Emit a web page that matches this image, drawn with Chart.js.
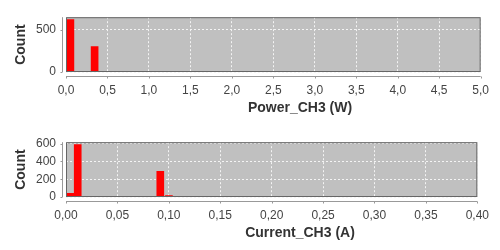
<!DOCTYPE html>
<html>
<head>
<meta charset="utf-8">
<script src="https://cdn.jsdelivr.net/npm/chart.js@4/dist/chart.umd.min.js"></script>
<style>
  html, body { margin: 0; padding: 0; background: #ffffff; }
  .wrap { position: relative; width: 500px; height: 125px; }
  canvas { display: block; }
</style>
</head>
<body>
<div class="wrap"><canvas id="c1" width="500" height="125"></canvas></div>
<div class="wrap"><canvas id="c2" width="500" height="125"></canvas></div>
<script>
// ---- Data ----
const powerBinCenters = [0.053, 0.345];
const powerCounts     = [618, 299];
const powerXTicks     = [0, 0.5, 1, 1.5, 2, 2.5, 3, 3.5, 4, 4.5, 5];
const powerYTicks     = [0, 500];
const powerTitle      = 'Power_CH3 (W)';

const currentBinCenters = [0.0043, 0.0114, 0.0917, 0.1001];
const currentCounts     = [40, 590, 290, 17];
const currentXTicks     = [0, 0.05, 0.10, 0.15, 0.20, 0.25, 0.30, 0.35, 0.40];
const currentYTicks     = [0, 200, 400, 600];
const currentTitle      = 'Current_CH3 (A)';

const yTitle = 'Count';

// ---- Helpers ----
const FONT = "'Liberation Sans', Arial, sans-serif";

function fmtComma(v, decimals) {
  return Number(v).toFixed(decimals).replace('.', ',');
}

const plotDecor = {
  id: 'plotDecor',
  beforeDraw(chart) {
    const {ctx, chartArea: a} = chart;
    ctx.save();
    ctx.fillStyle = '#c0c0c0';
    ctx.fillRect(a.left, a.top, a.right - a.left, a.bottom - a.top);
    ctx.restore();
  },
  afterDraw(chart, args, opts) {
    const {ctx, chartArea: a} = chart;
    const xs = chart.scales.x, ys = chart.scales.y;
    ctx.save();
    ctx.strokeStyle = '#666666';
    ctx.lineWidth = 1;
    ctx.strokeRect(a.left + 0.5, a.top + 0.5, a.right - a.left - 1, a.bottom - a.top - 1);
    ctx.strokeStyle = '#999999';
    const ax = a.left - 3.5;
    const ay = a.bottom + 4.5;
    ctx.beginPath();
    ctx.moveTo(ax, a.top); ctx.lineTo(ax, a.bottom);
    ctx.moveTo(a.left, ay); ctx.lineTo(a.right, ay);
    ys.ticks.forEach(t => {
      const p = Math.round(ys.getPixelForValue(t.value)) + 0.5;
      ctx.moveTo(ax, p); ctx.lineTo(ax - 2, p);
    });
    xs.ticks.forEach(t => {
      const p = Math.round(xs.getPixelForValue(t.value)) + 0.5;
      ctx.moveTo(p, ay); ctx.lineTo(p, ay + 2);
    });
    ctx.stroke();

    // axis titles
    ctx.fillStyle = '#333333';
    ctx.textAlign = 'center';
    ctx.textBaseline = 'middle';
    ctx.font = "bold 14px " + FONT;
    ctx.fillText(opts.xTitle, 300, 108);
    ctx.translate(21.5, (a.top + a.bottom) / 2);
    ctx.rotate(-Math.PI / 2);
    ctx.fillText(opts.yTitle, 0, 0);
    ctx.restore();
  }
};

function makeChart(id, centers, counts, xTicks, xDec, yMax, yTicks, xTitle) {
  const pts = centers.map((c, i) => ({x: c, y: counts[i]}));
  return new Chart(document.getElementById(id), {
    type: 'bar',
    data: {
      datasets: [{
        data: pts,
        backgroundColor: '#ff0000',
        borderColor: '#ff0000',
        borderWidth: 0,
        barThickness: 7
      }]
    },
    options: {
      responsive: false,
      animation: false,
      devicePixelRatio: 1,
      layout: { padding: { top: 10, right: 12, left: 0, bottom: 0 } },
      plugins: {
        legend: { display: false },
        tooltip: { enabled: false },
        plotDecor: { xTitle: xTitle, yTitle: yTitle }
      },
      scales: {
        x: {
          type: 'linear',
          min: xTicks[0], max: xTicks[xTicks.length - 1],
          offset: false,
          afterFit(s) { s.height = 53; },
          afterBuildTicks(s) { s.ticks = xTicks.map(v => ({value: v})); },
          grid: { color: '#f4f4f4', drawTicks: false, offset: false },
          border: { display: false, dash: [2, 2] },
          ticks: {
            padding: 11,
            color: '#444444',
            font: { family: FONT, size: 12 },
            maxRotation: 0,
            autoSkip: false,
            callback: v => fmtComma(v, xDec)
          },
          title: { display: false }
        },
        y: {
          min: 0, max: yMax,
          afterFit(s) { s.width = 66; },
          afterBuildTicks(s) { s.ticks = yTicks.map(v => ({value: v})); },
          grid: { color: '#f4f4f4', drawTicks: false },
          border: { display: false, dash: [2, 2] },
          ticks: {
            padding: 10,
            color: '#444444',
            font: { family: FONT, size: 12 }
          },
          title: { display: false }
        }
      }
    },
    plugins: [plotDecor]
  });
}

makeChart('c1', powerBinCenters, powerCounts, powerXTicks, 1, 646, powerYTicks, powerTitle);
makeChart('c2', currentBinCenters, currentCounts, currentXTicks, 2, 617, currentYTicks, currentTitle);
</script>
</body>
</html>
